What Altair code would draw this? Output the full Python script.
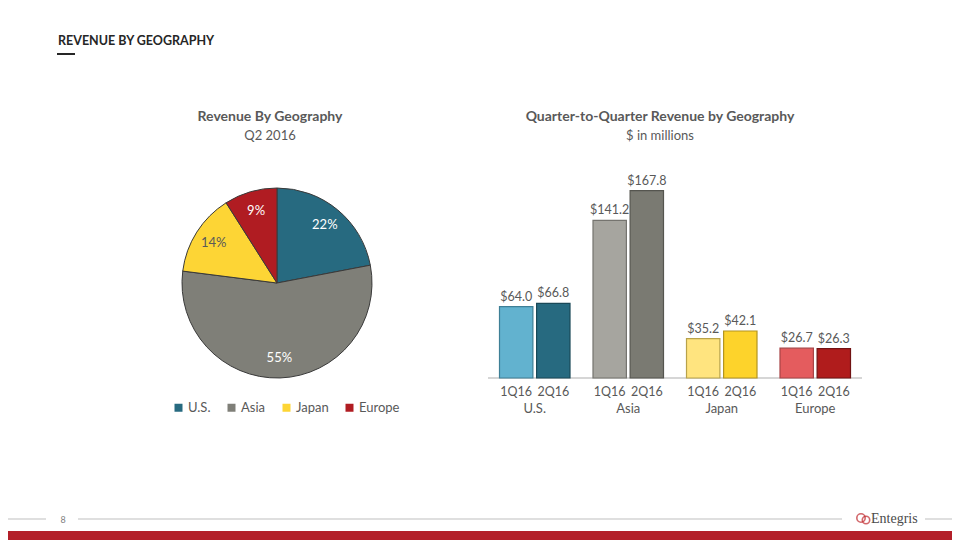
import altair as alt
import pandas as pd

# ---------------- data ----------------
regions = ["U.S.", "Asia", "Japan", "Europe"]
quarters = ["1Q16", "2Q16"]
rev_1q16 = [64.0, 141.2, 35.2, 26.7]
rev_2q16 = [66.8, 167.8, 42.1, 26.3]
pie_pct = [22, 55, 14, 9]

pie_colors = ["#276A80", "#7F7F78", "#FDD535", "#B01C22"]
pie_text_colors = ["#FFFFFF", "#FFFFFF", "#595959", "#FFFFFF"]
bar_colors_1q = ["#62B2CF", "#A6A59F", "#FFE47F", "#E45C5E"]
bar_colors_2q = ["#276A80", "#7A7A72", "#FDD32B", "#B01C1C"]
bar_strokes_1q = ["#3E7F96", "#75746F", "#B8A24A", "#A84446"]
bar_strokes_2q = ["#1A4958", "#55554F", "#B39420", "#701213"]

FONT = "Lato"
GRAY = "#595959"

pie_df = pd.DataFrame({
    "region": regions,
    "pct": pie_pct,
    "idx": list(range(len(regions))),
    "label": [f"{p}%" for p in pie_pct],
    "tcol": pie_text_colors,
})

rows = []
for i, r in enumerate(regions):
    rows.append({"region": r, "quarter": quarters[0], "value": rev_1q16[i],
                 "col": bar_colors_1q[i], "scol": bar_strokes_1q[i]})
    rows.append({"region": r, "quarter": quarters[1], "value": rev_2q16[i],
                 "col": bar_colors_2q[i], "scol": bar_strokes_2q[i]})
bar_df = pd.DataFrame(rows)
bar_df["label"] = bar_df["value"].map(lambda v: f"${v:.1f}")

one = pd.DataFrame({"a": [0]})

# ---------------- scales ----------------
xs = alt.Scale(domain=regions, range=[480, 854], paddingInner=0.246, paddingOuter=0.123)
xo = alt.Scale(domain=quarters, paddingInner=0.1, paddingOuter=0)
ys = alt.Scale(domain=[0, 167.8], range=[370, 182.7], nice=False, zero=True)

# ---------------- header ----------------
title = alt.Chart(one).mark_text(
    text="REVENUE BY GEOGRAPHY", font=FONT, fontSize=12.5, fontWeight="bold",
    color="#262626", align="left", baseline="middle"
).encode(x=alt.value(50), y=alt.value(33))
underline = alt.Chart(one).mark_rule(color="#262626", strokeWidth=2).encode(
    x=alt.value(49), x2=alt.value(67), y=alt.value(46))

# ---------------- pie ----------------
pie_title = alt.Chart(one).mark_text(
    text="Revenue By Geography", font=FONT, fontSize=14, fontWeight="bold",
    color=GRAY, align="center", baseline="middle"
).encode(x=alt.value(262), y=alt.value(109))
pie_sub = alt.Chart(one).mark_text(
    text="Q2 2016", font=FONT, fontSize=13, color=GRAY, align="center", baseline="middle"
).encode(x=alt.value(262), y=alt.value(128))

pie = alt.Chart(pie_df).mark_arc(
    outerRadius=95, stroke="#3A3A3A", strokeWidth=1
).encode(
    theta=alt.Theta("pct:Q", stack=True),
    color=alt.Color("region:N", scale=alt.Scale(domain=regions, range=pie_colors),
                    legend=alt.Legend(orient="none", legendX=164, legendY=393,
                                      direction="horizontal", title=None,
                                      symbolType="square", symbolSize=64,
                                      symbolStrokeWidth=0, labelFont=FONT,
                                      labelFontSize=13, labelColor=GRAY,
                                      columnPadding=14, labelOffset=3, padding=0)),
    order=alt.Order("idx:Q"),
    x=alt.value(269), y=alt.value(275),
)
pie_text = alt.Chart(pie_df).mark_text(
    radius=75, font=FONT, fontSize=13, align="center", baseline="middle"
).encode(
    theta=alt.Theta("pct:Q", stack=True),
    order=alt.Order("idx:Q"),
    text="label:N",
    color=alt.Color("tcol:N", scale=None),
    x=alt.value(269), y=alt.value(275),
)

# ---------------- bars ----------------
bar_title = alt.Chart(one).mark_text(
    text="Quarter-to-Quarter Revenue by Geography", font=FONT, fontSize=14,
    fontWeight="bold", color=GRAY, align="center", baseline="middle"
).encode(x=alt.value(652), y=alt.value(109))
bar_sub = alt.Chart(one).mark_text(
    text="$ in millions", font=FONT, fontSize=13, color=GRAY, align="center",
    baseline="middle"
).encode(x=alt.value(652), y=alt.value(128))

bars = alt.Chart(bar_df).mark_bar(strokeWidth=1.2).encode(
    x=alt.X("region:N", scale=xs, axis=None),
    xOffset=alt.XOffset("quarter:N", scale=xo),
    y=alt.Y("value:Q", scale=ys, axis=None),
    color=alt.Color("col:N", scale=None),
    stroke=alt.Stroke("scol:N", scale=None),
)
bar_labels = alt.Chart(bar_df).mark_text(
    font=FONT, fontSize=12.5, color=GRAY, baseline="bottom", dy=-3
).encode(
    x=alt.X("region:N", scale=xs, axis=None),
    xOffset=alt.XOffset("quarter:N", scale=xo),
    y=alt.Y("value:Q", scale=ys, axis=None),
    text="label:N",
)
baseline = alt.Chart(one).mark_rule(color="#C8C8C8", strokeWidth=1.5).encode(
    x=alt.value(480), x2=alt.value(854), y=alt.value(370))
q_labels = alt.Chart(bar_df).mark_text(
    font=FONT, fontSize=12.5, color=GRAY, baseline="middle"
).encode(
    x=alt.X("region:N", scale=xs, axis=None),
    xOffset=alt.XOffset("quarter:N", scale=xo),
    y=alt.value(384),
    text="quarter:N",
)
region_labels = alt.Chart(pd.DataFrame({"region": regions})).mark_text(
    font=FONT, fontSize=13, color=GRAY, baseline="middle"
).encode(
    x=alt.X("region:N", scale=xs, axis=None),
    y=alt.value(401),
    text="region:N",
)

# ---------------- footer ----------------
foot_lines = [
    alt.Chart(one).mark_rule(color="#BFBFBF", strokeWidth=1).encode(
        x=alt.value(a), x2=alt.value(b), y=alt.value(511))
    for a, b in [(0, 38), (70, 834), (917, 944)]
]
page_no = alt.Chart(one).mark_text(
    text="8", font=FONT, fontSize=9, color="#7F7F7F", baseline="middle"
).encode(x=alt.value(55), y=alt.value(512))
logo_ring1 = alt.Chart(one).mark_point(
    shape="circle", size=70, filled=False, color="#C0282D", strokeWidth=1.6
).encode(x=alt.value(853), y=alt.value(510))
logo_ring2 = alt.Chart(one).mark_point(
    shape="circle", size=55, filled=False, color="#C0282D", strokeWidth=1.6
).encode(x=alt.value(858), y=alt.value(512))
logo_text = alt.Chart(one).mark_text(
    text="Entegris", font="Liberation Serif", fontSize=14, color="#4A4A4A",
    align="left", baseline="middle"
).encode(x=alt.value(863), y=alt.value(511))
red_bar = alt.Chart(one).mark_rect(color="#B31F29").encode(
    x=alt.value(-8), x2=alt.value(952), y=alt.value(523), y2=alt.value(540))

chart = alt.layer(
    title, underline,
    pie_title, pie_sub, pie, pie_text,
    bar_title, bar_sub, baseline, bars, bar_labels, q_labels, region_labels,
    *foot_lines, page_no, logo_ring1, logo_ring2, logo_text, red_bar,
).resolve_scale(
    color="independent"
).properties(
    width=944, height=532, padding=0, autosize=alt.AutoSizeParams(type="none")
).configure_view(stroke=None)

chart.save("out.html", embed_options={"renderer": "svg", "actions": False})
